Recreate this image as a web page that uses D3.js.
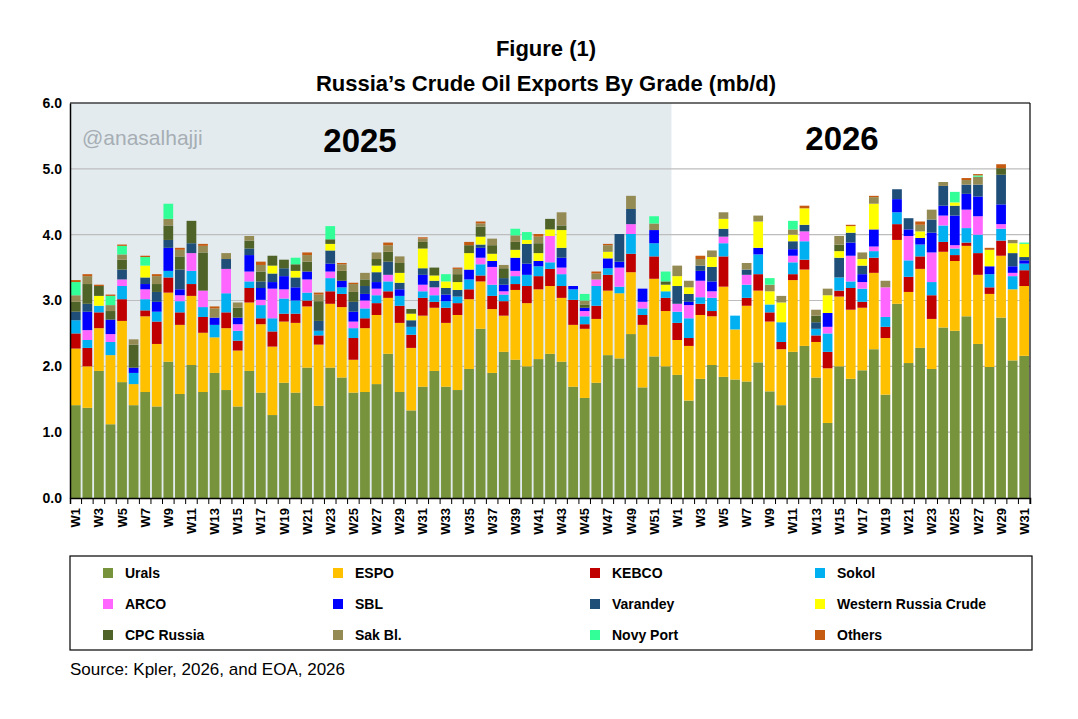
<!DOCTYPE html>
<html><head><meta charset="utf-8">
<script src="https://cdn.jsdelivr.net/npm/d3@7"></script>
<style>body{margin:0;background:#fff;}text{font-family:"Liberation Sans",Arial,sans-serif;}</style>
</head><body><svg id="c" width="1078" height="719"></svg>
<script>
const weeks25 = d3.range(1,53).map(i=>"W"+i);
const weeks26 = d3.range(1,32).map(i=>"W"+i);
const seriesNames = ["Urals","ESPO","KEBCO","Sokol","ARCO","SBL","Varandey","Western Russia Crude","CPC Russia","Sak Bl.","Novy Port","Others"];
const colors = ["#77933C","#FFC000","#C00000","#00B0F0","#FF66FF","#0000FF","#1F4E79","#FFFF00","#4F6228","#948A54","#33FF99","#C55A11"];
const yTicks = [0,1,2,3,4,5,6];

const urals = [1.41,1.37,1.93,1.12,1.76,1.41,1.61,1.39,2.07,1.58,2.02,1.61,1.9,1.64,1.39,1.93,1.6,1.26,1.75,1.6,1.98,1.4,1.98,1.83,1.6,1.61,1.73,2.19,1.61,1.33,1.69,1.93,1.69,1.64,1.96,2.57,1.9,2.22,2.1,2.0,2.11,2.19,2.07,1.69,1.52,1.75,2.17,2.12,2.49,1.68,2.15,2.0,
 1.87,1.48,1.81,2.02,1.84,1.8,1.77,2.06,1.62,1.41,2.22,2.31,1.83,1.14,2.0,1.81,1.94,2.26,1.57,2.95,2.05,2.28,1.96,2.59,2.54,2.76,2.34,1.99,2.74,2.09,2.16];
const espo = [.86,.63,.65,1.05,.93,.32,1.15,.95,1.05,1.05,1.05,.9,.54,.94,.85,1.04,1.04,1.04,.93,1.06,.93,.93,.97,1.07,.5,.97,1.05,.85,1.05,.95,1.08,.96,.97,1.14,1.06,.72,.97,.55,1.06,.96,1.06,1.03,.97,.94,1.05,.97,.98,.99,.94,.95,1.18,.84,
 .53,.83,.97,.74,1.37,.76,1.15,1.09,1.06,.85,1.09,1.16,.54,.83,1.06,1.05,.95,1.16,.86,.97,1.08,1.2,.76,1.15,1.06,1.07,1.05,1.11,.94,1.08,1.06];
const kebco = [.23,.28,.24,0,.33,0,.09,.34,.23,.19,.18,.24,0,.24,.15,.22,.09,.23,.12,.14,.09,.14,.19,.2,.33,.15,.18,.1,.26,.2,.27,.09,.23,.18,.15,.09,.2,.22,.09,.26,.2,.26,.18,.38,.07,.2,.24,0,.28,.15,.34,.2,
 .26,.12,.17,.08,.46,0,.12,.25,.14,.11,.09,.15,.1,.25,.09,.33,.09,.23,.17,.24,.23,.19,.36,.15,.09,.05,.33,.1,.23,0,.24];
const sokol = [.2,.12,.1,.2,.2,.17,.17,.15,.1,.17,.2,.15,.19,.29,.15,.1,.2,.2,.23,.2,.12,.07,.2,.1,.15,.15,.12,.15,.15,.12,.1,.1,.1,.1,.15,.17,.17,.1,.12,.17,.15,.1,.18,.16,.12,.3,.1,.1,.3,.1,.2,.1,
 .17,.3,.1,.2,.2,.21,.2,.3,.12,.3,.18,.28,.1,.28,.2,.1,.2,.1,.15,.18,.25,.18,.2,.25,.1,.22,.28,.2,.18,.2,.1];
const arco = [0,.15,0,.12,.1,0,.15,0,0,.09,.27,.25,0,.37,.1,.15,.08,.45,.14,0,.2,0,.1,0,.1,.12,.1,.1,0,0,.1,.12,0,0,0,.1,.27,.05,.08,0,0,.4,.1,0,.08,.1,0,.29,.15,.1,0,0,
 .12,.2,.25,.1,.1,0,.15,0,0,0,.1,.15,0,.1,0,.39,.1,.07,.45,0,.37,0,.45,.15,.05,.28,.28,0,.07,.05,0];
const sbl = [0,.28,0,.22,0,.08,.08,.15,.35,.09,0,0,.11,0,.1,.25,.18,.1,.2,.2,.12,0,.12,.1,.15,.1,.1,0,.1,0,.15,0,.1,0,.15,.15,.09,.1,.2,.17,.08,0,.15,.05,.05,0,.15,.09,0,.2,.2,0,
 0,.05,.15,.15,0,0,0,.1,0,0,.1,0,0,.21,0,.2,.12,.26,0,.2,.1,.1,.3,.15,.45,.24,.3,.12,.3,.1,.05];
const varandey = [.13,.12,0,0,.15,0,.1,.15,.12,.3,.15,0,0,.15,0,.1,.1,.13,.12,.15,0,.15,.2,0,.15,.12,.15,.2,.1,.1,.1,.1,.1,.1,0,.05,0,.1,0,.3,0,0,.15,0,0,0,0,.42,.23,0,0,0,
 .27,.12,.08,.22,.12,0,.08,0,0,0,.12,.1,.1,0,.3,.15,.13,0,0,.15,.17,0,.2,.3,.15,.14,.18,0,.45,.2,.05];
const wrc = [0,0,.15,0,0,0,.18,0,0,0,0,0,0,0,0,0,0,.12,0,.1,0,0,.1,0,0,0,.1,0,.15,.1,.3,.08,.1,.12,.25,.12,.11,0,.12,.06,.12,.1,.27,0,0,0,.1,0,0,0,0,.1,
 .15,.1,0,.15,.15,0,0,.4,.2,.3,.1,.25,0,.27,.1,.1,.1,.39,0,0,0,.1,0,0,.05,0,0,.25,0,.15,.2];
const cpc = [.15,.3,.15,.13,.15,.35,0,.12,.22,.2,.34,.58,0,0,.15,.12,.15,.15,.13,.1,.15,.3,.07,.15,.15,.1,.1,.15,.15,.07,.1,.12,0,.12,.12,.15,.13,.15,.12,0,.15,.16,.07,0,.05,0,0,0,0,0,0,.05,
 0,0,0,0,0,0,0,0,0,0,0,0,.1,0,.1,0,0,0,0,0,0,0,0,0,0,0,0,0,.1,0,0];
const sak = [.1,.12,0,.09,.08,.08,0,.12,.1,.1,0,.1,.14,.09,.08,.07,.1,0,0,0,.1,.1,0,.1,.12,.1,.1,.1,.1,0,.05,0,0,.08,0,.05,.1,.05,.1,0,.1,0,.2,0,.06,.09,.1,0,.2,0,.1,0,
 .16,.1,.1,.1,.1,0,.1,.09,.1,.1,.08,0,.09,.1,.13,0,.1,.1,.1,0,0,.1,.15,.06,0,.07,.12,0,0,.05,0];
const novy = [.2,0,0,.14,.13,0,.13,0,.23,0,0,0,0,0,0,0,0,0,0,.1,0,0,.2,0,0,0,0,0,0,0,0,0,.11,0,0,0,0,0,.1,.12,0,0,0,0,.1,0,0,0,0,0,.11,.15,
 0,0,0,0,0,0,0,0,.1,0,.13,0,0,0,0,0,0,0,0,0,0,0,0,0,.16,0,.02,0,0,0,.02];
const others = [.03,.03,.02,.02,.02,0,.02,.03,0,.03,0,.03,.03,0,0,0,.05,0,0,0,.04,.03,0,.02,.02,0,0,.04,0,0,.02,0,0,.02,.05,.03,0,0,0,0,.04,0,0,0,0,.03,.02,0,0,0,0,0,
 0,0,.05,0,0,0,0,0,0,0,0,.04,0,0,0,.02,0,.02,0,0,0,.05,0,0,0,.03,.02,.03,.06,0,0];

const allSeries=[urals,espo,kebco,sokol,arco,sbl,varandey,wrc,cpc,sak,novy,others];
const keys = weeks25.map(w=>"25-"+w).concat(weeks26.map(w=>"26-"+w));
const rows = keys.map((k,i)=>{const o={key:k};seriesNames.forEach((s,j)=>o[s]=allSeries[j][i]||0);return o;});
const stacked = d3.stack().keys(seriesNames)(rows);

const svg=d3.select("#c");
const L=70,R=1030,T=103,B=498;
const x=d3.scaleBand().domain(keys).range([L,R]).paddingInner(0.16).paddingOuter(0.08);
const y=d3.scaleLinear().domain([0,6]).range([B,T]);

svg.append("rect").attr("x",L).attr("y",T).attr("width",x(keys[52])-x.step()*x.paddingInner()/2-L).attr("height",B-T).attr("fill","#E4EBEF");
svg.append("g").selectAll("line").data(yTicks.slice(1)).join("line")
 .attr("x1",L).attr("x2",R).attr("y1",d=>y(d)).attr("y2",d=>y(d)).attr("stroke","#bdbdbd").attr("stroke-width",1.2);

svg.append("text").attr("x",82).attr("y",145).attr("font-size",21).attr("fill","#A6AEB4").text("@anasalhajji");
svg.append("text").attr("x",360).attr("y",152).attr("text-anchor","middle").attr("font-size",33).attr("font-weight","bold").text("2025");
svg.append("text").attr("x",842).attr("y",150).attr("text-anchor","middle").attr("font-size",33).attr("font-weight","bold").text("2026");

svg.append("g").selectAll("g").data(stacked).join("g").attr("fill",(d,i)=>colors[i])
 .selectAll("rect").data(d=>d).join("rect")
 .attr("x",d=>x(d.data.key)).attr("width",x.bandwidth())
 .attr("y",d=>y(d[1])).attr("height",d=>Math.max(0,y(d[0])-y(d[1])));

const yAxis=svg.append("g").attr("transform",`translate(${L},0)`).call(d3.axisLeft(y).tickValues(yTicks).tickSize(0).tickPadding(8));
yAxis.selectAll("text").attr("font-size",14).attr("font-weight","bold").attr("fill","#000");
yAxis.select(".domain").attr("stroke","#000").attr("stroke-width",1.5);
svg.append("line").attr("x1",R).attr("x2",R).attr("y1",T).attr("y2",B).attr("stroke","#000").attr("stroke-width",1.2);
svg.append("line").attr("x1",L).attr("x2",R).attr("y1",T).attr("y2",T).attr("stroke","#000").attr("stroke-width",1);

const xAxis=svg.append("g").attr("transform",`translate(0,${B})`).call(d3.axisBottom(x).tickSize(6).tickFormat(k=>{const w=k.split("-")[1];return (+w.slice(1))%2===1?w:"";}));
xAxis.select(".domain").attr("stroke","#000").attr("stroke-width",1.5);
xAxis.selectAll(".tick line").attr("stroke","#000").attr("transform",`translate(${x.step()/2},0)`);
xAxis.selectAll("text").attr("font-size",13).attr("font-weight","bold").attr("fill","#000")
 .attr("transform","rotate(-90)").attr("text-anchor","end").attr("dx","-8").attr("dy","-0.1em").attr("y",0).attr("x",-2);
xAxis.selectAll("text").attr("dy","0.35em");

svg.append("text").attr("x",546).attr("y",56).attr("text-anchor","middle").attr("font-size",22).attr("font-weight","bold").text("Figure (1)");
svg.append("text").attr("x",546).attr("y",91).attr("text-anchor","middle").attr("font-size",22).attr("font-weight","bold").text("Russia’s Crude Oil Exports By Grade (mb/d)");

svg.append("rect").attr("x",70).attr("y",556).attr("width",962).attr("height",94).attr("fill","none").attr("stroke","#000").attr("stroke-width",1.2);
const colX=[103,333,590,815], rowY=[573,604,635];
const lg=svg.append("g").selectAll("g").data(seriesNames).join("g")
 .attr("transform",(d,i)=>`translate(${colX[i%4]},${rowY[Math.floor(i/4)]})`);
lg.append("rect").attr("x",0).attr("y",-5).attr("width",10).attr("height",10).attr("fill",(d,i)=>colors[i]);
lg.append("text").attr("x",22).attr("y",5).attr("font-size",14).attr("font-weight","bold").text(d=>d);

svg.append("text").attr("x",70).attr("y",675).attr("font-size",17).text("Source: Kpler, 2026, and EOA, 2026");
</script></body></html>
